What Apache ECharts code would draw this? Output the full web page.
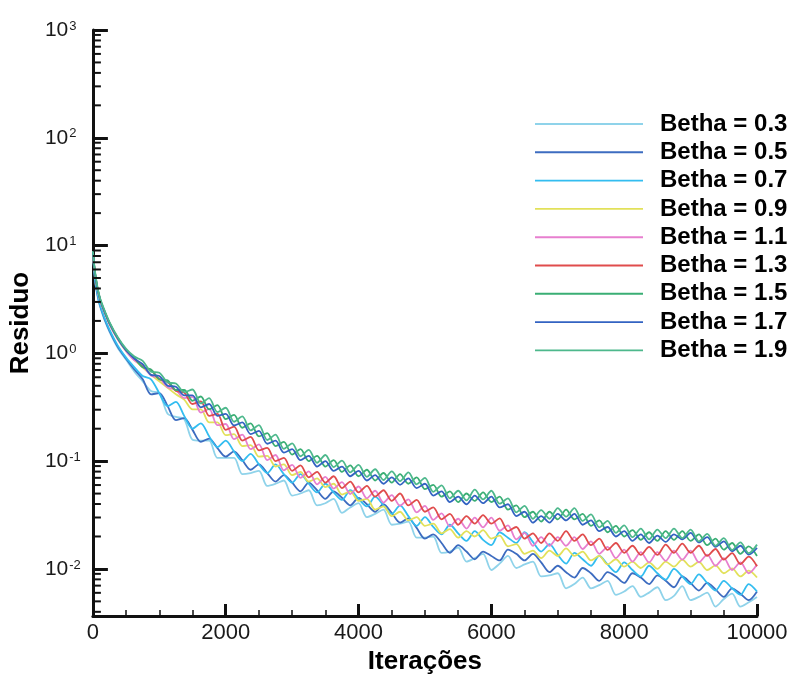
<!DOCTYPE html>
<html><head><meta charset="utf-8">
<script src="https://cdn.jsdelivr.net/npm/echarts@6/dist/echarts.min.js"></script>
<style>html,body{margin:0;padding:0;background:#fff}#c{width:792px;height:680px}</style>
</head><body><div id="c"></div>
<script>
// Iterations (x values shared by every series)
const iters = [0,20,40,70,100,125,175,250,375,500,625,750,875,1000,1125,1250,1375,1500,1625,1750,1875,2000,2125,2250,2375,2500,2625,2750,2875,3000,3125,3250,3375,3500,3625,3750,3875,4000,4125,4250,4375,4500,4625,4750,4875,5000,5125,5250,5375,5500,5625,5750,5875,6000,6125,6250,6375,6500,6625,6750,6875,7000,7125,7250,7375,7500,7625,7750,7875,8000,8125,8250,8375,8500,8625,8750,8875,9000,9125,9250,9375,9500,9625,9750,9875,10000];

const betha03 = [8.51,5.75,4.37,3.39,2.82,2.51,2.04,1.58,1.12,0.871,
0.676,0.550,0.447,0.427,0.275,0.257,0.245,0.158,0.155,0.155,
0.107,0.107,0.107,0.0759,0.0776,0.0813,0.0589,0.0617,0.0661,0.0479,
0.0501,0.0537,0.0389,0.0407,0.0447,0.0331,0.0372,0.0407,0.0302,0.0324,
0.0355,0.0257,0.0263,0.0275,0.0195,0.0195,0.0200,0.0141,0.0145,0.0158,
0.0117,0.0126,0.0138,0.00977,0.0112,0.0132,0.0102,0.0110,0.0117,0.00851,
0.00871,0.00912,0.00661,0.00724,0.00832,0.00661,0.00708,0.00776,0.00575,0.00617,
0.00692,0.00550,0.00603,0.00676,0.00513,0.00562,0.00692,0.00513,0.00550,0.00603,
0.00447,0.00525,0.00589,0.00447,0.00490,0.00550];

const betha05 = [8.71,5.89,4.47,3.47,2.88,2.57,2.09,1.62,1.15,0.891,
0.708,0.575,0.417,0.427,0.324,0.240,0.251,0.195,0.151,0.162,
0.132,0.110,0.123,0.102,0.0832,0.0933,0.0776,0.0646,0.0741,0.0631,
0.0525,0.0631,0.0537,0.0447,0.0525,0.0457,0.0389,0.0457,0.0398,0.0339,
0.0398,0.0331,0.0269,0.0295,0.0240,0.0191,0.0209,0.0174,0.0141,0.0166,
0.0145,0.0123,0.0145,0.0132,0.0120,0.0151,0.0138,0.0120,0.0138,0.0115,
0.00933,0.0107,0.00933,0.00832,0.0102,0.00912,0.00776,0.00933,0.00851,0.00741,
0.00912,0.00832,0.00724,0.00871,0.00776,0.00676,0.00851,0.00741,0.00631,0.00741,
0.00646,0.00550,0.00661,0.00589,0.00513,0.00617];

const betha07 = [8.91,6.03,4.57,3.55,2.95,2.63,2.14,1.66,1.18,0.912,
0.741,0.617,0.575,0.427,0.324,0.355,0.263,0.200,0.224,0.170,
0.135,0.155,0.123,0.100,0.117,0.0933,0.0776,0.0933,0.0759,0.0631,
0.0759,0.0617,0.0513,0.0617,0.0513,0.0437,0.0537,0.0447,0.0380,0.0468,
0.0389,0.0324,0.0389,0.0309,0.0251,0.0302,0.0245,0.0209,0.0257,0.0214,
0.0182,0.0224,0.0186,0.0166,0.0219,0.0195,0.0174,0.0219,0.0178,0.0145,
0.0170,0.0135,0.0112,0.0141,0.0123,0.0107,0.0132,0.0110,0.00933,0.0115,
0.00977,0.00851,0.0107,0.00912,0.00794,0.0100,0.00851,0.00724,0.00891,0.00741,
0.00631,0.00776,0.00661,0.00575,0.00724,0.00617];

const betha09 = [8.51,6.31,5.01,3.89,3.24,2.88,2.40,1.86,1.35,1.05,
0.871,0.741,0.631,0.550,0.479,0.417,0.372,0.302,0.302,0.229,
0.229,0.174,0.178,0.138,0.141,0.110,0.112,0.0891,0.0933,0.0741,
0.0794,0.0646,0.0692,0.0575,0.0617,0.0490,0.0525,0.0427,0.0447,0.0355,
0.0380,0.0309,0.0339,0.0282,0.0302,0.0251,0.0263,0.0214,0.0234,0.0195,
0.0224,0.0200,0.0229,0.0191,0.0204,0.0162,0.0170,0.0138,0.0148,0.0126,
0.0148,0.0132,0.0155,0.0132,0.0145,0.0120,0.0132,0.0110,0.0123,0.0105,
0.0117,0.0102,0.0115,0.0100,0.0117,0.0105,0.0122,0.0105,0.0116,0.00977,
0.0108,0.00912,0.0101,0.00851,0.00966,0.00832];

const betha11 = [8.51,6.31,5.01,3.89,3.24,2.88,2.40,1.86,1.35,1.05,
0.861,0.767,0.624,0.589,0.484,0.457,0.385,0.394,0.282,0.305,
0.216,0.221,0.160,0.176,0.129,0.143,0.102,0.114,0.0822,0.0923,
0.0700,0.0804,0.0610,0.0716,0.0556,0.0638,0.0495,0.0582,0.0452,0.0531,
0.0412,0.0484,0.0385,0.0442,0.0335,0.0385,0.0285,0.0327,0.0248,0.0292,
0.0237,0.0299,0.0243,0.0299,0.0226,0.0254,0.0188,0.0216,0.0164,0.0197,
0.0164,0.0197,0.0164,0.0197,0.0153,0.0180,0.0138,0.0160,0.0126,0.0151,
0.0117,0.0143,0.0115,0.0143,0.0119,0.0148,0.0122,0.0148,0.0115,0.0136,
0.0107,0.0126,0.00977,0.0115,0.00912,0.0110];

const betha13 = [8.71,6.46,5.13,3.98,3.31,2.95,2.45,1.91,1.38,1.07,
0.902,0.750,0.700,0.575,0.543,0.447,0.432,0.339,0.359,0.263,
0.275,0.195,0.209,0.155,0.168,0.126,0.133,0.100,0.107,0.0813,
0.0912,0.0708,0.0794,0.0631,0.0724,0.0562,0.0646,0.0513,0.0589,0.0468,
0.0537,0.0427,0.0501,0.0389,0.0437,0.0339,0.0372,0.0288,0.0324,0.0257,
0.0309,0.0263,0.0316,0.0263,0.0295,0.0224,0.0245,0.0191,0.0214,0.0174,
0.0214,0.0182,0.0224,0.0182,0.0209,0.0166,0.0191,0.0150,0.0174,0.0141,
0.0164,0.0135,0.0160,0.0135,0.0168,0.0141,0.0172,0.0141,0.0164,0.0132,
0.0153,0.0122,0.0140,0.0111,0.0130,0.0106];

const betha15 = [8.71,6.46,5.13,3.98,3.31,2.95,2.45,1.91,1.38,1.07,
0.912,0.741,0.708,0.575,0.562,0.457,0.457,0.363,0.398,0.302,
0.331,0.245,0.269,0.204,0.224,0.170,0.182,0.138,0.151,0.115,
0.129,0.100,0.112,0.0891,0.102,0.0794,0.0912,0.0724,0.0832,0.0661,
0.0776,0.0631,0.0759,0.0617,0.0708,0.0550,0.0603,0.0468,0.0525,0.0417,
0.0501,0.0427,0.0513,0.0417,0.0468,0.0355,0.0389,0.0302,0.0339,0.0275,
0.0339,0.0288,0.0355,0.0288,0.0324,0.0251,0.0282,0.0219,0.0251,0.0200,
0.0229,0.0186,0.0219,0.0182,0.0224,0.0186,0.0224,0.0182,0.0209,0.0166,
0.0191,0.0151,0.0174,0.0138,0.0162,0.0132];

const betha17 = [8.71,6.46,5.13,3.98,3.31,2.95,2.45,1.91,1.38,1.07,
0.891,0.794,0.631,0.617,0.501,0.490,0.407,0.407,0.316,0.339,
0.263,0.275,0.214,0.229,0.178,0.191,0.145,0.155,0.120,0.129,
0.102,0.112,0.0891,0.100,0.0813,0.0891,0.0724,0.0813,0.0661,0.0741,
0.0617,0.0708,0.0603,0.0692,0.0562,0.0617,0.0479,0.0525,0.0417,0.0468,
0.0398,0.0479,0.0407,0.0468,0.0372,0.0398,0.0309,0.0339,0.0269,0.0309,
0.0269,0.0324,0.0282,0.0324,0.0257,0.0282,0.0224,0.0245,0.0200,0.0224,
0.0182,0.0209,0.0174,0.0204,0.0178,0.0209,0.0188,0.0216,0.0176,0.0197,
0.0160,0.0180,0.0146,0.0164,0.0136,0.0157];

const betha19 = [8.91,6.61,5.25,4.07,3.39,3.02,2.51,1.95,1.41,1.10,
0.933,0.851,0.676,0.661,0.537,0.525,0.437,0.462,0.343,0.385,
0.285,0.313,0.232,0.260,0.193,0.216,0.157,0.176,0.130,0.146,
0.111,0.127,0.0966,0.114,0.0881,0.101,0.0785,0.0923,0.0716,0.0841,
0.0668,0.0804,0.0653,0.0785,0.0610,0.0700,0.0519,0.0596,0.0452,0.0531,
0.0432,0.0543,0.0442,0.0531,0.0403,0.0452,0.0335,0.0385,0.0292,0.0351,
0.0292,0.0367,0.0305,0.0367,0.0279,0.0320,0.0243,0.0279,0.0216,0.0254,
0.0197,0.0237,0.0188,0.0232,0.0193,0.0237,0.0193,0.0232,0.0180,0.0211,
0.0164,0.0193,0.0150,0.0176,0.0140,0.0168];

const seriesNames = ['Betha = 0.3','Betha = 0.5','Betha = 0.7','Betha = 0.9','Betha = 1.1','Betha = 1.3','Betha = 1.5','Betha = 1.7','Betha = 1.9'];
const seriesValues = [betha03, betha05, betha07, betha09, betha11, betha13, betha15, betha17, betha19];

// axis range
const xMin = 0, xMax = 10000, xStep = 2000;
const yMin = 0.00365, yMax = 1000;
const decades = [-3, -2, -1, 0, 1, 2];

// styling (kept apart from the data)
const palette = ['#8fd3ea','#3d6cc0','#33bdf0','#e2e15a','#e77fcf','#e04c4c','#3aae74','#3363c2','#4db88c'];
const FONT = 'Liberation Sans, Arial, sans-serif';

const chart = echarts.init(document.getElementById('c'), null, {renderer:'canvas'});

const minorVals = [];
decades.forEach(function(d){
  for (let m = 2; m <= 9; m++) {
    const v = m * Math.pow(10, d);
    if (v > yMin && v < yMax) minorVals.push([0, v]);
  }
});

const series = seriesNames.map(function(name, i){
  return {
    name: name,
    type: 'line',
    symbol: 'none',
    smooth: 0.3,
    data: iters.map(function(x, k){ return [x, seriesValues[i][k]]; }),
    lineStyle: {color: palette[i], width: 1.8},
    itemStyle: {color: palette[i]},
    z: 2 + i
  };
});

series.push({
  type: 'custom',
  silent: true,
  z: 20,
  clip: false,
  encode: {x: 0, y: 1},
  data: minorVals,
  renderItem: function(params, api){
    const p = api.coord([0, api.value(1)]);
    return {type:'line', shape:{x1:p[0], y1:p[1], x2:p[0]+8, y2:p[1]}, style:{stroke:'#111', lineWidth:2}};
  }
});

chart.setOption({
  animation: false,
  backgroundColor: '#ffffff',
  grid: {left: 90, right: 35, top: 30, bottom: 52, containLabel: false},
  legend: {
    orient: 'vertical',
    left: 535,
    top: 112,
    padding: 0,
    itemWidth: 108,
    itemHeight: 24,
    itemGap: 4.3,
    icon: 'path://M0 0H100V1.8H0Z',
    symbolKeepAspect: true,
    data: seriesNames,
    textStyle: {fontFamily: FONT, fontWeight: 'bold', fontSize: 24, color: '#000', padding: [0,0,0,12]}
  },
  xAxis: {
    type: 'value',
    min: xMin, max: xMax, interval: xStep,
    name: 'Iterações',
    nameLocation: 'middle',
    nameGap: 22,
    nameTextStyle: {fontFamily: FONT, fontWeight: 'bold', fontSize: 26, color: '#000'},
    axisLine: {show: true, onZero: false, lineStyle: {color: '#111', width: 3}},
    axisTick: {show: true, inside: true, length: 12, lineStyle: {color: '#111', width: 3}},
    minorTick: {show: true, splitNumber: 4, length: 6, lineStyle: {color: '#111', width: 1.5}},
    axisLabel: {fontFamily: FONT, fontSize: 22, color: '#1a1a1a', margin: 6,
      formatter: function(v){ return String(v); }},
    splitLine: {show: false},
    minorSplitLine: {show: false}
  },
  yAxis: {
    type: 'log',
    logBase: 10,
    min: yMin, max: yMax,
    name: 'Residuo',
    nameLocation: 'middle',
    nameGap: 57,
    nameTextStyle: {fontFamily: FONT, fontWeight: 'bold', fontSize: 26, color: '#000'},
    axisLine: {show: true, onZero: false, lineStyle: {color: '#111', width: 3}},
    axisTick: {show: true, inside: true, length: 15, lineStyle: {color: '#111', width: 3}},
    axisLabel: {
      align: 'left',
      margin: 48,
      formatter: function(v){
        const e = Math.log10(v);
        const r = Math.round(e);
        if (Math.abs(e - r) > 1e-6) return '';
        return '{b|10}{s|' + r + '}';
      },
      rich: {
        b: {fontFamily: FONT, fontSize: 21, color: '#1a1a1a'},
        s: {fontFamily: FONT, fontSize: 13, color: '#1a1a1a', verticalAlign: 'top', padding: [0,0,0,1]}
      }
    },
    splitLine: {show: false}
  },
  series: series
});
</script>
</body></html>
